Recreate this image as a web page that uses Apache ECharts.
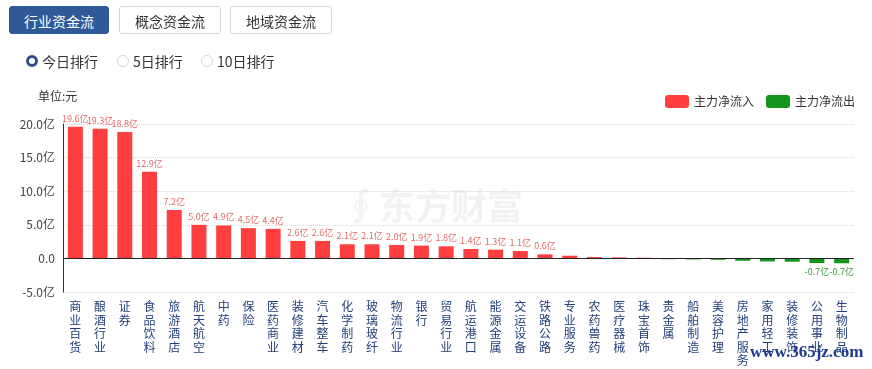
<!DOCTYPE html>
<html><head><meta charset="utf-8">
<script src="https://cdn.jsdelivr.net/npm/echarts@6/dist/echarts.min.js"></script>
<style>
html,body{margin:0;padding:0;background:#fff;font-family:"Noto Sans CJK SC","Noto Sans",sans-serif;}
#wrap{position:relative;width:872px;height:369px;overflow:hidden;}
#chart{position:absolute;left:0;top:0;width:872px;height:369px;}
.tab{position:absolute;top:6px;height:28px;line-height:28px;box-sizing:border-box;border:1px solid #d4d8de;border-radius:3px;background:#fff;color:#333;font-size:14px;text-align:center;z-index:2;}
.tab.on{background:#2f5a97;border-color:#2f5a97;color:#fff;}
.radio{position:absolute;top:52px;height:18px;line-height:18px;font-size:14px;color:#333;z-index:2;}
.radio i{position:absolute;left:0;top:3px;width:12px;height:12px;box-sizing:border-box;border:1px solid #d0d4da;border-radius:50%;background:#fff;}
.radio.on i{border:3.5px solid #2e4f8a;}
.radio span{position:absolute;left:16px;top:0;white-space:nowrap;}
</style></head>
<body><div id="wrap">
<div id="chart"></div>
<div class="tab on" style="left:9px;width:100px;">行业资金流</div>
<div class="tab" style="left:119px;width:102px;">概念资金流</div>
<div class="tab" style="left:230px;width:102px;">地域资金流</div>
<div class="radio on" style="left:26px;"><i></i><span>今日排行</span></div>
<div class="radio" style="left:117px;"><i></i><span>5日排行</span></div>
<div class="radio" style="left:201px;"><i></i><span>10日排行</span></div>
</div>
<script>
const categories = ['商业百货','酿酒行业','证券','食品饮料','旅游酒店','航天航空','中药','保险','医药商业','装修建材','汽车整车','化学制药','玻璃玻纤','物流行业','银行','贸易行业','航运港口','能源金属','交运设备','铁路公路','专业服务','农药兽药','医疗器械','珠宝首饰','贵金属','船舶制造','美容护理','房地产服务','家用轻工','装修装饰','公用事业','生物制品'];
const netFlow = [19.6,19.3,18.8,12.9,7.2,5.0,4.9,4.5,4.4,2.6,2.6,2.1,2.1,2.0,1.9,1.8,1.4,1.3,1.1,0.6,0.4,0.2,0.15,0.1,-0.12,-0.15,-0.2,-0.35,-0.45,-0.5,-0.7,-0.72];
const yTicks = {min:-5, max:20, interval:5};
const legendNames = ['主力净流入','主力净流出'];

const RED = '#ff3f3f', GREEN = '#13951b';
function item(v){
  return {value: v, label: {show: Math.abs(v) >= 0.55}};
}
const inflow = netFlow.map(v => v >= 0 ? item(v) : '-');
const outflow = netFlow.map(v => v < 0 ? item(v) : '-');
const fmt = p => p.value.toFixed(1) + '亿';

const chart = echarts.init(document.getElementById('chart'), null, {renderer:'canvas'});
chart.setOption({
  animation:false,
  textStyle:{fontFamily:'"Noto Sans CJK SC","Noto Sans",sans-serif'},
  grid:{left:63, right:18, top:124, bottom:77, containLabel:false},
  legend:{
    data:legendNames, right:12, top:90, itemWidth:24, itemHeight:13, itemGap:12,
    textStyle:{fontSize:12, color:'#333'}
  },
  graphic:[
    {type:'text', left:38, top:90, style:{text:'单位:元', fontSize:12, fill:'#333', fontFamily:'"Noto Sans CJK SC",sans-serif'}},
    {type:'text', left:343, top:188, silent:true, style:{text:'∮东方财富', fontSize:36, fontWeight:'bold', fill:'rgba(0,0,0,0.05)', fontFamily:'"Noto Sans CJK SC",sans-serif'}},
    {type:'text', left:750, top:344, z:100, style:{text:'www.365jz.com', fontSize:17, fontWeight:'bold', fill:'#1c3c8c', fontFamily:'"Liberation Serif","DejaVu Serif",serif'}}
  ],
  xAxis:{
    type:'category', data:categories,
    axisLine:{show:false, onZero:false}, axisTick:{show:false},
    axisLabel:{interval:0, margin:8, fontSize:12, lineHeight:13.5, color:'#25407a', verticalAlign:'top',
      formatter: s => s.split('').join('\n')}
  },
  yAxis:{
    type:'value', min:yTicks.min, max:yTicks.max, interval:yTicks.interval,
    axisLine:{show:true, lineStyle:{color:'#333'}}, axisTick:{show:false},
    axisLabel:{fontSize:12, color:'#444', margin:8, formatter: v => v === 0 ? '0.0' : v.toFixed(1) + '亿'},
    splitLine:{show:true, lineStyle:{type:'dotted', color:'#d8d8d8'}}
  },
  series:[
    {name:legendNames[0], type:'bar', stack:'flow', data:inflow, barWidth:15,
      itemStyle:{color:RED},
      label:{position:'top', distance:4, fontSize:9, color:'#e36a6a', formatter:fmt},
      markLine:{silent:true, symbol:'none', label:{show:false}, lineStyle:{color:'#222', type:'solid', width:1},
        data:[{yAxis:0}]}
    },
    {name:legendNames[1], type:'bar', stack:'flow', data:outflow, barWidth:15,
      itemStyle:{color:GREEN},
      label:{position:'bottom', distance:4, fontSize:9, color:'#3d9a3d', formatter:fmt}
    }
  ]
});
</script></body></html>
